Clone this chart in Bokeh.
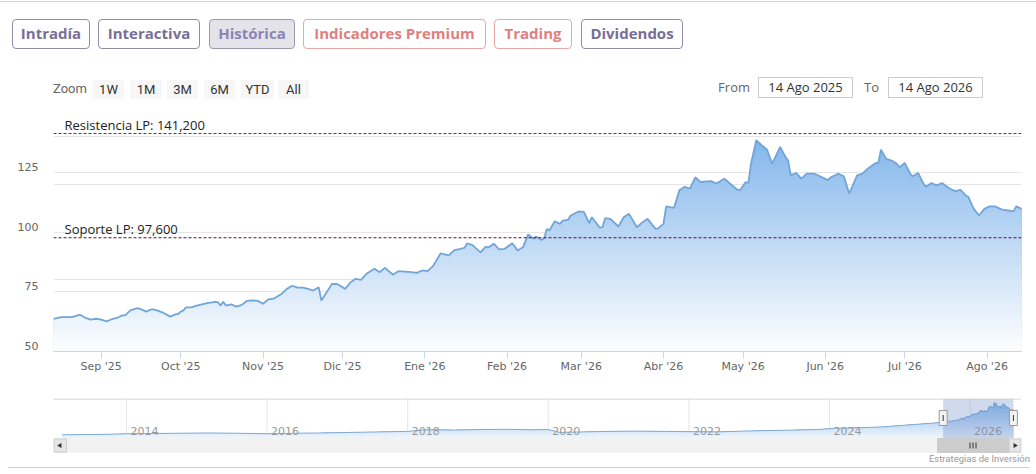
import numpy as np
import pandas as pd
from bokeh.plotting import figure
from bokeh.models import (Range1d, FixedTicker, ColumnDataSource, Span, Grid, LinearAxis, Div)
from bokeh.layouts import column
from bokeh.embed import file_html
from bokeh.resources import INLINE
from bokeh.core.properties import value

# ---------------- data ----------------
dates = ["2025-08-14", "2025-08-17", "2025-08-21", "2025-08-24", "2025-08-26", "2025-08-28", "2025-08-30",
         "2025-09-01", "2025-09-03", "2025-09-05", "2025-09-07", "2025-09-09", "2025-09-10", "2025-09-12",
         "2025-09-14", "2025-09-15", "2025-09-17", "2025-09-18", "2025-09-20", "2025-09-22", "2025-09-24",
         "2025-09-27", "2025-09-29", "2025-09-30", "2025-10-01", "2025-10-02", "2025-10-03", "2025-10-05",
         "2025-10-07", "2025-10-09", "2025-10-11", "2025-10-14", "2025-10-15", "2025-10-16", "2025-10-17",
         "2025-10-18", "2025-10-20", "2025-10-22", "2025-10-24", "2025-10-26", "2025-10-28", "2025-10-30",
         "2025-11-01", "2025-11-03", "2025-11-05", "2025-11-07", "2025-11-08", "2025-11-10", "2025-11-12",
         "2025-11-14", "2025-11-16", "2025-11-18", "2025-11-20", "2025-11-22", "2025-11-23", "2025-11-25",
         "2025-11-27", "2025-11-29", "2025-12-02", "2025-12-04", "2025-12-06", "2025-12-08", "2025-12-10",
         "2025-12-13", "2025-12-15", "2025-12-17", "2025-12-20", "2025-12-22", "2025-12-27", "2025-12-29",
         "2025-12-31", "2026-01-02", "2026-01-04", "2026-01-05", "2026-01-07", "2026-01-10", "2026-01-12",
         "2026-01-16", "2026-01-17", "2026-01-19", "2026-01-22", "2026-01-24", "2026-01-25", "2026-01-27",
         "2026-01-29", "2026-01-31", "2026-02-03", "2026-02-05", "2026-02-07", "2026-02-09", "2026-02-11",
         "2026-02-12", "2026-02-14", "2026-02-15", "2026-02-16", "2026-02-17", "2026-02-19", "2026-02-21",
         "2026-02-22", "2026-02-24", "2026-02-25", "2026-02-28", "2026-03-02", "2026-03-04", "2026-03-05",
         "2026-03-08", "2026-03-09", "2026-03-10", "2026-03-12", "2026-03-15", "2026-03-17", "2026-03-19",
         "2026-03-22", "2026-03-24", "2026-03-26", "2026-03-29", "2026-03-30", "2026-04-01", "2026-04-02",
         "2026-04-05", "2026-04-07", "2026-04-09", "2026-04-11", "2026-04-13", "2026-04-15", "2026-04-17",
         "2026-04-19", "2026-04-21", "2026-04-23", "2026-04-24", "2026-04-26", "2026-04-29", "2026-04-30",
         "2026-05-02", "2026-05-03", "2026-05-04", "2026-05-06", "2026-05-08", "2026-05-10", "2026-05-12",
         "2026-05-15", "2026-05-17", "2026-05-18", "2026-05-19", "2026-05-21", "2026-05-23", "2026-05-25",
         "2026-05-28", "2026-05-30", "2026-06-02", "2026-06-03", "2026-06-06", "2026-06-08", "2026-06-10",
         "2026-06-11", "2026-06-13", "2026-06-15", "2026-06-17", "2026-06-20", "2026-06-21", "2026-06-22",
         "2026-06-24", "2026-06-26", "2026-06-28", "2026-06-29", "2026-07-01", "2026-07-03", "2026-07-04",
         "2026-07-06", "2026-07-08", "2026-07-09", "2026-07-11", "2026-07-13", "2026-07-15", "2026-07-18",
         "2026-07-20", "2026-07-22", "2026-07-24", "2026-07-25", "2026-07-27", "2026-07-29", "2026-07-31",
         "2026-08-02", "2026-08-04", "2026-08-06", "2026-08-07", "2026-08-09", "2026-08-11", "2026-08-12",
         "2026-08-14"]
prices = [63.7, 64.4, 64.4, 65.4, 64.1, 63.3, 63.7,
          63.3, 62.6, 63.5, 64.1, 65.1, 65.1, 67.2,
          67.9, 68.1, 67.2, 66.7, 67.7, 67.2, 66.4,
          64.6, 65.5, 65.7, 66.7, 67.2, 68.5, 68.5,
          69.2, 69.7, 70.2, 70.8, 70.6, 69.2, 70.8,
          69.2, 69.7, 68.8, 69.5, 71.2, 71.4, 71.2,
          70.0, 71.8, 72.1, 73.4, 74.1, 76.2, 77.5,
          76.7, 76.7, 76.2, 75.5, 76.9, 71.3, 74.8,
          78.3, 78.2, 76.2, 79.0, 80.4, 80.0, 82.5,
          84.6, 83.2, 85.0, 82.1, 83.6, 83.2, 82.9,
          83.9, 83.6, 85.6, 87.4, 91.1, 90.2, 92.3,
          93.4, 95.3, 94.5, 91.5, 93.9, 93.5, 95.1,
          92.7, 92.9, 95.3, 92.3, 93.6, 99.0, 97.2,
          98.1, 96.7, 97.4, 101.3, 100.6, 104.5, 103.4,
          104.8, 105.1, 106.9, 108.6, 108.4, 103.7, 106.2,
          101.8, 102.0, 105.8, 105.5, 102.3, 106.2, 107.6,
          102.0, 104.0, 105.5, 101.3, 101.5, 103.4, 110.7,
          110.1, 117.5, 118.9, 118.2, 122.9, 120.9, 121.2,
          121.3, 120.3, 121.7, 122.3, 120.3, 117.6, 117.6,
          120.9, 120.5, 128.6, 138.4, 136.3, 134.5, 128.6,
          135.6, 131.4, 130.0, 123.7, 124.7, 122.3, 124.4,
          124.4, 123.3, 121.7, 122.8, 124.4, 123.3, 116.2,
          118.5, 123.7, 124.4, 126.5, 128.9, 128.9, 134.4,
          130.6, 129.9, 128.5, 127.1, 128.9, 124.4, 123.3,
          124.7, 120.3, 118.9, 120.5, 119.5, 120.5, 118.1,
          117.1, 117.6, 115.3, 114.6, 109.7, 106.9, 109.7,
          110.7, 110.7, 109.7, 109.3, 109.0, 108.6, 110.7,
          109.7]

# long-term history shown in the navigator (before the selected window)
hist_dates = ["2013-02-01", "2013-06-01", "2013-10-01", "2014-01-01", "2014-06-01", "2014-10-01",
              "2015-03-01", "2015-08-01", "2016-01-01", "2016-06-01", "2016-10-01", "2017-03-01",
              "2017-08-01", "2018-01-01", "2018-04-01", "2018-09-01", "2019-01-01", "2019-06-01",
              "2019-10-01", "2020-01-01", "2020-03-01", "2020-07-01", "2020-11-01", "2021-04-01",
              "2021-09-01", "2022-01-01", "2022-06-01", "2022-10-01", "2023-02-01", "2023-07-01",
              "2023-11-01", "2024-02-01", "2024-06-01", "2024-10-01", "2025-01-01", "2025-04-01",
              "2025-07-01"]
hist_prices = [15, 16, 17, 19, 20, 21, 22, 21, 19, 21, 22, 24, 26, 28, 34, 33, 35, 36, 34, 35,
               24, 26, 28, 29, 28, 27, 26, 29, 31, 33, 35, 40, 42, 45, 50, 55, 60]

res_level = 141.2
sup_level = 97.6
res_label = "Resistencia LP: 141,200"
sup_label = "Soporte LP: 97,600"

y_ticks = [50, 75, 100, 125]
y_grid = [75, 100, 125, 150]
month_ticks = ["2025-09-01", "2025-10-01", "2025-11-01", "2025-12-01", "2026-01-01", "2026-02-01",
               "2026-03-01", "2026-04-01", "2026-05-01", "2026-06-01", "2026-07-01", "2026-08-01"]
month_labels = ["Sep '25", "Oct '25", "Nov '25", "Dic '25", "Ene '26", "Feb '26",
                "Mar '26", "Abr '26", "May '26", "Jun '26", "Jul '26", "Ago '26"]
nav_years = ["2014", "2016", "2018", "2020", "2022", "2024", "2026"]

tabs = ["Intradía", "Interactiva", "Histórica", "Indicadores Premium", "Trading", "Dividendos"]
tab_kind = ["normal", "normal", "selected", "premium", "premium", "normal"]
zoom_buttons = ["1W", "1M", "3M", "6M", "YTD", "All"]
from_text = "14 Ago 2025"
to_text = "14 Ago 2026"
view_start = "2025-08-14"
view_end = "2026-08-14"
credit = "Estrategias de Inversión"


def ms(d):
    return pd.Timestamp(d).value // 10**6


def mix(c1, c2, t):
    a = [int(c1[i:i + 2], 16) for i in (1, 3, 5)]
    b = [int(c2[i:i + 2], 16) for i in (1, 3, 5)]
    return "#%02x%02x%02x" % tuple(int(round(x + (y - x) * t)) for x, y in zip(a, b))


W = 1036
FONT = value("Open Sans")

# ---------------- header (tabs, range selector, from/to) as HTML ----------------
tab_lr = [(12, 90), (98, 200), (209, 295), (303, 486), (494, 572), (581, 683)]
styles = {
    "normal": ("#ffffff", "#928dac", "#776f98"),
    "selected": ("#e3e3e9", "#9b97b3", "#8b83b6"),
    "premium": ("#ffffff", "#e9a7a7", "#e07f80"),
}
parts = ['<div style="position:absolute;left:0;top:1px;width:1036px;height:1px;background:#d4d4d4"></div>']
for (l, r), kind, name in zip(tab_lr, tab_kind, tabs):
    bg, bc, tc = styles[kind]
    parts.append(
        f'<div style="position:absolute;left:{l}px;top:19px;width:{r - l}px;height:30px;box-sizing:border-box;'
        f'border:1px solid {bc};border-radius:4px;background:{bg};color:{tc};font-family:\'Open Sans\';'
        f'font-weight:700;font-size:15px;display:flex;align-items:center;justify-content:center;'
        f'white-space:nowrap">{name}</div>')
parts.append('<div style="position:absolute;left:53px;top:79px;height:20px;line-height:20px;'
             'font-family:Roboto;font-size:13px;color:#666666">Zoom</div>')
zb_lr = [(93, 124), (130, 162), (167, 198), (204, 235), (241, 274), (278, 309)]
for (l, r), name in zip(zb_lr, zoom_buttons):
    parts.append(
        f'<div style="position:absolute;left:{l}px;top:80px;width:{r - l}px;height:19px;background:#f7f7f7;'
        f'color:#333333;font-family:Roboto;font-size:13px;line-height:19px;text-align:center">{name}</div>')
for lab, right_edge, bl, br, txt in (("From", 750, 758, 853, from_text), ("To", 879, 888, 983, to_text)):
    parts.append(
        f'<div style="position:absolute;left:{right_edge - 60}px;top:77px;width:60px;height:21px;'
        f'line-height:21px;text-align:right;font-family:\'Open Sans\';font-size:13px;color:#666666">{lab}</div>')
    parts.append(
        f'<div style="position:absolute;left:{bl}px;top:77px;width:{br - bl}px;height:21px;box-sizing:border-box;'
        f'border:1px solid #cccccc;line-height:19px;text-align:center;font-family:\'Open Sans\';font-size:13px;'
        f'color:#333333">{txt}</div>')
hdr_html = ('<div style="position:relative;width:1036px;height:104px;overflow:hidden;background:#ffffff">'
            + "".join(parts) + "</div>")
hdr = Div(text=hdr_html, width=W, height=104, margin=0)

# ---------------- main chart ----------------
src = ColumnDataSource(dict(x=pd.to_datetime(dates), y=prices))
main = figure(width=W, height=278, x_axis_type="datetime", y_axis_location=None,
              x_range=Range1d(ms(view_start), ms(view_end)), y_range=Range1d(50, 150),
              toolbar_location=None, output_backend="svg",
              min_border_left=53, min_border_right=15, min_border_top=8, min_border_bottom=31)
main.outline_line_color = None
main.xgrid.visible = False
main.add_layout(Grid(dimension=1, ticker=FixedTicker(ticks=y_grid), grid_line_color="#e6e6e6"))

top_c, bot_c = "#76aee9", "#ffffff"
px = np.array(prices)
xs = pd.to_datetime(dates)
for hi in np.arange(150, 50, -2.0):
    t = (150 - hi) / 100.0
    main.varea(x=xs, y1=50, y2=np.minimum(px, hi), fill_color=mix(top_c, bot_c, t), fill_alpha=1)
main.line("x", "y", source=src, line_color="#72a5d8", line_width=1.8)

main.add_layout(Span(location=res_level, dimension="width", line_color="#1d5a1d",
                     line_dash="3 2", line_width=1))
main.add_layout(Span(location=sup_level, dimension="width", line_color="#5c1030",
                     line_dash="3 2", line_width=1))
main.text(x=[ms(view_start)] * 2, y=[res_level, sup_level], text=[res_label, sup_label],
          x_offset=11, y_offset=0, text_font=FONT, text_font_size="13px", text_color="#222222",
          text_align="left", text_baseline="bottom")

# y labels sit slightly above their grid lines (Highcharts style): axis on a range shifted by ~5.5px
shift = 5.5 * 100.0 / 239.0
main.extra_y_ranges = {"ylab": Range1d(50 - shift, 150 - shift)}
yax = LinearAxis(y_range_name="ylab", ticker=FixedTicker(ticks=y_ticks))
yax.axis_line_color = None
yax.major_tick_line_color = None
yax.minor_tick_line_color = None
yax.major_tick_out = 0
yax.major_tick_in = 0
yax.major_label_standoff = 15
yax.major_label_text_font = "DejaVu Sans"
yax.major_label_text_font_size = "11px"
yax.major_label_text_color = "#666666"
main.add_layout(yax, "left")

xax = main.xaxis[0]
tick_ms = [float(ms(d)) for d in month_ticks]
xax.ticker = FixedTicker(ticks=tick_ms)
xax.major_label_overrides = {t: lab for t, lab in zip(tick_ms, month_labels)}
xax.axis_line_color = "#ccd6eb"
xax.major_tick_line_color = "#ccd6eb"
xax.minor_tick_line_color = None
xax.major_tick_out = 7
xax.major_tick_in = 0
xax.major_label_standoff = 1
xax.major_label_text_font = "DejaVu Sans"
xax.major_label_text_font_size = "11px"
xax.major_label_text_color = "#666666"

# ---------------- navigator ----------------
nav = figure(width=W, height=71, x_range=Range1d(53, 1021), y_range=Range1d(453, 398),
             toolbar_location=None, output_backend="svg", x_axis_location=None, y_axis_location=None,
             min_border_left=53, min_border_right=15, min_border_top=16, min_border_bottom=0)
nav.outline_line_color = None
nav.grid.visible = False
nav.extra_x_ranges = {"navx": Range1d(ms("2012-12-18"), ms("2026-09-25"))}
nav.extra_y_ranges = {"navy": Range1d(-56, 153)}

yr_ms = [ms(y + "-01-01") for y in nav_years]
nav.segment(x0=yr_ms, y0=[398] * len(yr_ms), x1=yr_ms, y1=[438] * len(yr_ms),
            x_range_name="navx", line_color="#e6e6e6", line_width=1)

nx = pd.to_datetime(hist_dates + dates)
ny = np.array(hist_prices + prices, dtype=float)
for hi in np.arange(153, 1, -8.0):
    t = (153 - hi) / 152.0
    nav.varea(x=nx, y1=1, y2=np.minimum(ny, hi), fill_color=mix("#7cb5ec", "#f4f8fd", t),
              fill_alpha=1, x_range_name="navx", y_range_name="navy")
nav.line(x=nx, y=ny, line_color="#7fa9d6", line_width=1, x_range_name="navx", y_range_name="navy")

nav.text(x=yr_ms, y=[430] * len(yr_ms), text=nav_years, x_range_name="navx", x_offset=4,
         text_font=value("DejaVu Sans"), text_font_size="11px", text_color="#999999",
         text_align="left", text_baseline="middle")

nav.quad(left=[ms(view_start)], right=[ms(view_end)], top=[398], bottom=[438], x_range_name="navx",
         fill_color="#6685c2", fill_alpha=0.3, line_color=None)
nav.segment(x0=[53], y0=[398.5], x1=[1021], y1=[398.5], line_color="#cccccc", line_width=1)

# scrollbar
nav.quad(left=[53], right=[1021], top=[438], bottom=[452], fill_color="#f2f2f2", line_color="#f2f2f2")
nav.quad(left=[937], right=[1008], top=[438], bottom=[452], fill_color="#cccccc", line_color="#cccccc")
nav.quad(left=[53.5, 1008.5], right=[66, 1020.5], top=[438.5, 438.5], bottom=[451.5, 451.5],
         fill_color="#e6e6e6", line_color="#cccccc")
nav.scatter(x=[59.5, 1014.5], y=[445, 445], marker="triangle", angle=[np.pi / 2, -np.pi / 2],
            size=5, fill_color="#333333", line_color=None)
nav.segment(x0=[969.5, 972.5, 975.5], y0=[442, 442, 442], x1=[969.5, 972.5, 975.5], y1=[448, 448, 448],
            line_color="#333333", line_width=1)

# handles
nav.rect(x=[ms(view_start), ms(view_end)], y=[417.5, 417.5], width=8, height=15,
         width_units="screen", height_units="screen", x_range_name="navx",
         fill_color="#f2f2f2", line_color="#999999")
nav.scatter(x=[ms(view_start), ms(view_end)], y=[417.5, 417.5], marker="dash", angle=np.pi / 2,
            size=6, line_color="#333333", x_range_name="navx")

footer = Div(text='<div style="position:relative;width:1036px;height:20px;">'
                  f'<div style="position:absolute;right:6px;top:0;height:12px;line-height:12px;'
                  f'font-family:Roboto;font-size:9.5px;color:#999999;white-space:nowrap">{credit}</div>'
                  '<div style="position:absolute;left:8px;top:14px;width:1022px;height:1px;background:#d0d0d0">'
                  '</div></div>', width=W, height=20, margin=0)

layout = column(hdr, main, nav, footer, spacing=0)
open("out.html", "w").write(file_html(layout, INLINE))
